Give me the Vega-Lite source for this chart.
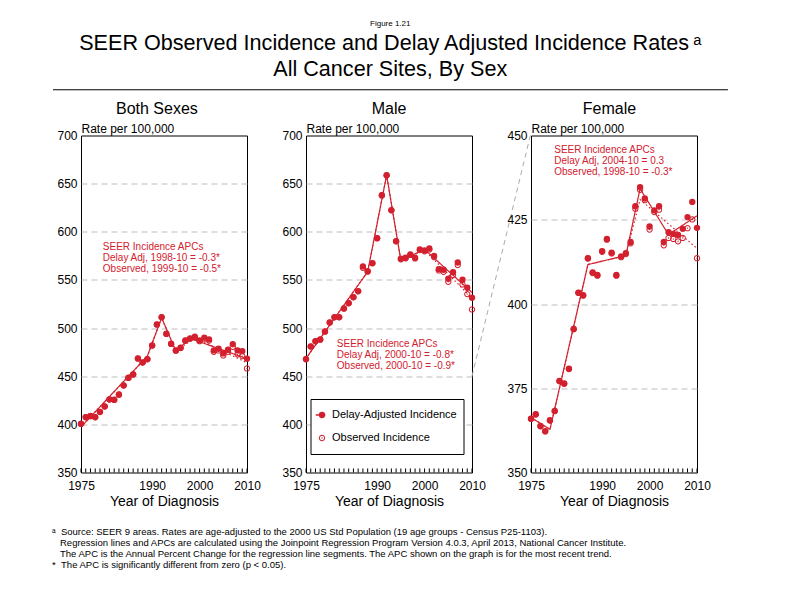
{
  "$schema": "https://vega.github.io/schema/vega-lite/v6.json",
  "padding": {"left": 51, "top": 19.5, "right": 5, "bottom": 5},
  "background": "white",
  "config": {
    "font": "Liberation Sans",
    "view": {"stroke": "black", "strokeWidth": 1},
    "axis": {"labelColor": "black", "titleColor": "black", "titleFontWeight": "normal", "labelFontSize": 12, "labelFont": "Liberation Sans", "titleFont": "Liberation Sans"},
    "title": {"fontWeight": "normal", "color": "black", "font": "Liberation Sans"},
    "text": {"font": "Liberation Sans"}
  },
  "datasets": {
    "pts": [
      {"panel": "Both", "year": 1975, "Delay-Adjusted Incidence": 400.7, "Observed Incidence": 400.5},
      {"panel": "Both", "year": 1976, "Delay-Adjusted Incidence": 407.6, "Observed Incidence": 407.4},
      {"panel": "Both", "year": 1977, "Delay-Adjusted Incidence": 408.7, "Observed Incidence": 408.5},
      {"panel": "Both", "year": 1978, "Delay-Adjusted Incidence": 407.6, "Observed Incidence": 407.4},
      {"panel": "Both", "year": 1979, "Delay-Adjusted Incidence": 413.0, "Observed Incidence": 412.8},
      {"panel": "Both", "year": 1980, "Delay-Adjusted Incidence": 418.7, "Observed Incidence": 418.5},
      {"panel": "Both", "year": 1981, "Delay-Adjusted Incidence": 426.0, "Observed Incidence": 425.8},
      {"panel": "Both", "year": 1982, "Delay-Adjusted Incidence": 425.6, "Observed Incidence": 425.4},
      {"panel": "Both", "year": 1983, "Delay-Adjusted Incidence": 431.0, "Observed Incidence": 430.8},
      {"panel": "Both", "year": 1984, "Delay-Adjusted Incidence": 440.5, "Observed Incidence": 440.3},
      {"panel": "Both", "year": 1985, "Delay-Adjusted Incidence": 448.4, "Observed Incidence": 448.2},
      {"panel": "Both", "year": 1986, "Delay-Adjusted Incidence": 452.0, "Observed Incidence": 451.8},
      {"panel": "Both", "year": 1987, "Delay-Adjusted Incidence": 468.5, "Observed Incidence": 468.3},
      {"panel": "Both", "year": 1988, "Delay-Adjusted Incidence": 464.4, "Observed Incidence": 464.2},
      {"panel": "Both", "year": 1989, "Delay-Adjusted Incidence": 467.8, "Observed Incidence": 467.6},
      {"panel": "Both", "year": 1990, "Delay-Adjusted Incidence": 482.0, "Observed Incidence": 481.8},
      {"panel": "Both", "year": 1991, "Delay-Adjusted Incidence": 503.8, "Observed Incidence": 503.6},
      {"panel": "Both", "year": 1992, "Delay-Adjusted Incidence": 511.4, "Observed Incidence": 511.2},
      {"panel": "Both", "year": 1993, "Delay-Adjusted Incidence": 494.1, "Observed Incidence": 493.9},
      {"panel": "Both", "year": 1994, "Delay-Adjusted Incidence": 483.7, "Observed Incidence": 483.5},
      {"panel": "Both", "year": 1995, "Delay-Adjusted Incidence": 476.8, "Observed Incidence": 476.5},
      {"panel": "Both", "year": 1996, "Delay-Adjusted Incidence": 479.6, "Observed Incidence": 479.3},
      {"panel": "Both", "year": 1997, "Delay-Adjusted Incidence": 487.2, "Observed Incidence": 486.8},
      {"panel": "Both", "year": 1998, "Delay-Adjusted Incidence": 489.3, "Observed Incidence": 488.8},
      {"panel": "Both", "year": 1999, "Delay-Adjusted Incidence": 491.0, "Observed Incidence": 490.3},
      {"panel": "Both", "year": 2000, "Delay-Adjusted Incidence": 487.2, "Observed Incidence": 486.4},
      {"panel": "Both", "year": 2001, "Delay-Adjusted Incidence": 490.0, "Observed Incidence": 489.0},
      {"panel": "Both", "year": 2002, "Delay-Adjusted Incidence": 488.2, "Observed Incidence": 487.0},
      {"panel": "Both", "year": 2003, "Delay-Adjusted Incidence": 476.8, "Observed Incidence": 475.4},
      {"panel": "Both", "year": 2004, "Delay-Adjusted Incidence": 478.5, "Observed Incidence": 476.8},
      {"panel": "Both", "year": 2005, "Delay-Adjusted Incidence": 473.7, "Observed Incidence": 471.6},
      {"panel": "Both", "year": 2006, "Delay-Adjusted Incidence": 477.5, "Observed Incidence": 475.4},
      {"panel": "Both", "year": 2007, "Delay-Adjusted Incidence": 483.4, "Observed Incidence": 480.6},
      {"panel": "Both", "year": 2008, "Delay-Adjusted Incidence": 476.8, "Observed Incidence": 472.7},
      {"panel": "Both", "year": 2009, "Delay-Adjusted Incidence": 476.0, "Observed Incidence": 470.9},
      {"panel": "Both", "year": 2010, "Delay-Adjusted Incidence": 468.2, "Observed Incidence": 458.1},
      {"panel": "Male", "year": 1975, "Delay-Adjusted Incidence": 467.8, "Observed Incidence": 467.6},
      {"panel": "Male", "year": 1976, "Delay-Adjusted Incidence": 481.0, "Observed Incidence": 480.8},
      {"panel": "Male", "year": 1977, "Delay-Adjusted Incidence": 486.5, "Observed Incidence": 486.3},
      {"panel": "Male", "year": 1978, "Delay-Adjusted Incidence": 488.2, "Observed Incidence": 488.0},
      {"panel": "Male", "year": 1979, "Delay-Adjusted Incidence": 496.5, "Observed Incidence": 496.3},
      {"panel": "Male", "year": 1980, "Delay-Adjusted Incidence": 505.9, "Observed Incidence": 505.7},
      {"panel": "Male", "year": 1981, "Delay-Adjusted Incidence": 511.4, "Observed Incidence": 511.2},
      {"panel": "Male", "year": 1982, "Delay-Adjusted Incidence": 511.4, "Observed Incidence": 511.2},
      {"panel": "Male", "year": 1983, "Delay-Adjusted Incidence": 520.4, "Observed Incidence": 520.2},
      {"panel": "Male", "year": 1984, "Delay-Adjusted Incidence": 526.0, "Observed Incidence": 525.8},
      {"panel": "Male", "year": 1985, "Delay-Adjusted Incidence": 532.2, "Observed Incidence": 532.0},
      {"panel": "Male", "year": 1986, "Delay-Adjusted Incidence": 538.4, "Observed Incidence": 538.2},
      {"panel": "Male", "year": 1987, "Delay-Adjusted Incidence": 564.0, "Observed Incidence": 562.6},
      {"panel": "Male", "year": 1988, "Delay-Adjusted Incidence": 559.2, "Observed Incidence": 558.6},
      {"panel": "Male", "year": 1989, "Delay-Adjusted Incidence": 567.5, "Observed Incidence": 567.2},
      {"panel": "Male", "year": 1990, "Delay-Adjusted Incidence": 593.4, "Observed Incidence": 593.2},
      {"panel": "Male", "year": 1991, "Delay-Adjusted Incidence": 638.0, "Observed Incidence": 637.8},
      {"panel": "Male", "year": 1992, "Delay-Adjusted Incidence": 658.8, "Observed Incidence": 658.6},
      {"panel": "Male", "year": 1993, "Delay-Adjusted Incidence": 622.5, "Observed Incidence": 622.3},
      {"panel": "Male", "year": 1994, "Delay-Adjusted Incidence": 590.3, "Observed Incidence": 590.1},
      {"panel": "Male", "year": 1995, "Delay-Adjusted Incidence": 572.0, "Observed Incidence": 571.5},
      {"panel": "Male", "year": 1996, "Delay-Adjusted Incidence": 573.0, "Observed Incidence": 572.5},
      {"panel": "Male", "year": 1997, "Delay-Adjusted Incidence": 576.5, "Observed Incidence": 576.0},
      {"panel": "Male", "year": 1998, "Delay-Adjusted Incidence": 573.0, "Observed Incidence": 572.3},
      {"panel": "Male", "year": 1999, "Delay-Adjusted Incidence": 581.7, "Observed Incidence": 581.0},
      {"panel": "Male", "year": 2000, "Delay-Adjusted Incidence": 580.6, "Observed Incidence": 579.8},
      {"panel": "Male", "year": 2001, "Delay-Adjusted Incidence": 582.7, "Observed Incidence": 581.7},
      {"panel": "Male", "year": 2002, "Delay-Adjusted Incidence": 575.0, "Observed Incidence": 573.8},
      {"panel": "Male", "year": 2003, "Delay-Adjusted Incidence": 561.2, "Observed Incidence": 559.9},
      {"panel": "Male", "year": 2004, "Delay-Adjusted Incidence": 560.6, "Observed Incidence": 558.5},
      {"panel": "Male", "year": 2005, "Delay-Adjusted Incidence": 551.2, "Observed Incidence": 548.0},
      {"panel": "Male", "year": 2006, "Delay-Adjusted Incidence": 558.1, "Observed Incidence": 555.0},
      {"panel": "Male", "year": 2007, "Delay-Adjusted Incidence": 568.2, "Observed Incidence": 565.4},
      {"panel": "Male", "year": 2008, "Delay-Adjusted Incidence": 550.2, "Observed Incidence": 545.3},
      {"panel": "Male", "year": 2009, "Delay-Adjusted Incidence": 541.9, "Observed Incidence": 535.3},
      {"panel": "Male", "year": 2010, "Delay-Adjusted Incidence": 531.5, "Observed Incidence": 519.4},
      {"panel": "Female", "year": 1975, "Delay-Adjusted Incidence": 366.0, "Observed Incidence": 365.9},
      {"panel": "Female", "year": 1976, "Delay-Adjusted Incidence": 367.3, "Observed Incidence": 367.2},
      {"panel": "Female", "year": 1977, "Delay-Adjusted Incidence": 363.8, "Observed Incidence": 363.7},
      {"panel": "Female", "year": 1978, "Delay-Adjusted Incidence": 362.3, "Observed Incidence": 362.2},
      {"panel": "Female", "year": 1979, "Delay-Adjusted Incidence": 365.5, "Observed Incidence": 365.4},
      {"panel": "Female", "year": 1980, "Delay-Adjusted Incidence": 368.3, "Observed Incidence": 368.2},
      {"panel": "Female", "year": 1981, "Delay-Adjusted Incidence": 377.2, "Observed Incidence": 377.1},
      {"panel": "Female", "year": 1982, "Delay-Adjusted Incidence": 376.4, "Observed Incidence": 376.3},
      {"panel": "Female", "year": 1983, "Delay-Adjusted Incidence": 380.8, "Observed Incidence": 380.7},
      {"panel": "Female", "year": 1984, "Delay-Adjusted Incidence": 392.6, "Observed Incidence": 392.5},
      {"panel": "Female", "year": 1985, "Delay-Adjusted Incidence": 403.4, "Observed Incidence": 403.3},
      {"panel": "Female", "year": 1986, "Delay-Adjusted Incidence": 402.6, "Observed Incidence": 402.5},
      {"panel": "Female", "year": 1987, "Delay-Adjusted Incidence": 413.6, "Observed Incidence": 413.5},
      {"panel": "Female", "year": 1988, "Delay-Adjusted Incidence": 409.4, "Observed Incidence": 409.2},
      {"panel": "Female", "year": 1989, "Delay-Adjusted Incidence": 408.6, "Observed Incidence": 408.4},
      {"panel": "Female", "year": 1990, "Delay-Adjusted Incidence": 415.7, "Observed Incidence": 415.5},
      {"panel": "Female", "year": 1991, "Delay-Adjusted Incidence": 419.3, "Observed Incidence": 419.1},
      {"panel": "Female", "year": 1992, "Delay-Adjusted Incidence": 415.2, "Observed Incidence": 415.0},
      {"panel": "Female", "year": 1993, "Delay-Adjusted Incidence": 408.6, "Observed Incidence": 408.4},
      {"panel": "Female", "year": 1994, "Delay-Adjusted Incidence": 414.1, "Observed Incidence": 413.9},
      {"panel": "Female", "year": 1995, "Delay-Adjusted Incidence": 415.1, "Observed Incidence": 414.8},
      {"panel": "Female", "year": 1996, "Delay-Adjusted Incidence": 418.4, "Observed Incidence": 418.0},
      {"panel": "Female", "year": 1997, "Delay-Adjusted Incidence": 429.0, "Observed Incidence": 428.3},
      {"panel": "Female", "year": 1998, "Delay-Adjusted Incidence": 434.7, "Observed Incidence": 433.9},
      {"panel": "Female", "year": 1999, "Delay-Adjusted Incidence": 431.3, "Observed Incidence": 430.8},
      {"panel": "Female", "year": 2000, "Delay-Adjusted Incidence": 423.0, "Observed Incidence": 422.1},
      {"panel": "Female", "year": 2001, "Delay-Adjusted Incidence": 427.8, "Observed Incidence": 427.3},
      {"panel": "Female", "year": 2002, "Delay-Adjusted Incidence": 429.0, "Observed Incidence": 428.0},
      {"panel": "Female", "year": 2003, "Delay-Adjusted Incidence": 418.4, "Observed Incidence": 417.4},
      {"panel": "Female", "year": 2004, "Delay-Adjusted Incidence": 421.3, "Observed Incidence": 419.6},
      {"panel": "Female", "year": 2005, "Delay-Adjusted Incidence": 420.8, "Observed Incidence": 419.3},
      {"panel": "Female", "year": 2006, "Delay-Adjusted Incidence": 420.5, "Observed Incidence": 418.6},
      {"panel": "Female", "year": 2007, "Delay-Adjusted Incidence": 422.3, "Observed Incidence": 419.6},
      {"panel": "Female", "year": 2008, "Delay-Adjusted Incidence": 425.8, "Observed Incidence": 422.5},
      {"panel": "Female", "year": 2009, "Delay-Adjusted Incidence": 430.3, "Observed Incidence": 425.1},
      {"panel": "Female", "year": 2010, "Delay-Adjusted Incidence": 422.6, "Observed Incidence": 413.6}
    ],
    "fits": [
      {"panel": "Both", "fit": "Delay-Adjusted", "year": 1975, "rate": 397.2},
      {"panel": "Both", "fit": "Delay-Adjusted", "year": 1989, "rate": 470.9},
      {"panel": "Both", "fit": "Delay-Adjusted", "year": 1992, "rate": 510.7},
      {"panel": "Both", "fit": "Delay-Adjusted", "year": 1995, "rate": 476.1},
      {"panel": "Both", "fit": "Delay-Adjusted", "year": 1998, "rate": 489.3},
      {"panel": "Both", "fit": "Delay-Adjusted", "year": 2010, "rate": 468.2},
      {"panel": "Both", "fit": "Observed", "year": 1975, "rate": 397.2},
      {"panel": "Both", "fit": "Observed", "year": 1989, "rate": 470.9},
      {"panel": "Both", "fit": "Observed", "year": 1992, "rate": 510.7},
      {"panel": "Both", "fit": "Observed", "year": 1995, "rate": 476.0},
      {"panel": "Both", "fit": "Observed", "year": 1999, "rate": 490.0},
      {"panel": "Both", "fit": "Observed", "year": 2010, "rate": 464.0},
      {"panel": "Male", "fit": "Delay-Adjusted", "year": 1975, "rate": 468.5},
      {"panel": "Male", "fit": "Delay-Adjusted", "year": 1988, "rate": 558.5},
      {"panel": "Male", "fit": "Delay-Adjusted", "year": 1992, "rate": 658.8},
      {"panel": "Male", "fit": "Delay-Adjusted", "year": 1995, "rate": 570.2},
      {"panel": "Male", "fit": "Delay-Adjusted", "year": 2000, "rate": 581.7},
      {"panel": "Male", "fit": "Delay-Adjusted", "year": 2010, "rate": 537.0},
      {"panel": "Male", "fit": "Observed", "year": 1975, "rate": 468.5},
      {"panel": "Male", "fit": "Observed", "year": 1988, "rate": 558.5},
      {"panel": "Male", "fit": "Observed", "year": 1992, "rate": 658.8},
      {"panel": "Male", "fit": "Observed", "year": 1995, "rate": 570.2},
      {"panel": "Male", "fit": "Observed", "year": 2000, "rate": 581.0},
      {"panel": "Male", "fit": "Observed", "year": 2010, "rate": 531.0},
      {"panel": "Female", "fit": "Delay-Adjusted", "year": 1975, "rate": 366.3},
      {"panel": "Female", "fit": "Delay-Adjusted", "year": 1979, "rate": 362.8},
      {"panel": "Female", "fit": "Delay-Adjusted", "year": 1987, "rate": 411.7},
      {"panel": "Female", "fit": "Delay-Adjusted", "year": 1995, "rate": 414.4},
      {"panel": "Female", "fit": "Delay-Adjusted", "year": 1998, "rate": 434.2},
      {"panel": "Female", "fit": "Delay-Adjusted", "year": 2004, "rate": 420.6},
      {"panel": "Female", "fit": "Delay-Adjusted", "year": 2010, "rate": 426.2},
      {"panel": "Female", "fit": "Observed", "year": 1975, "rate": 366.3},
      {"panel": "Female", "fit": "Observed", "year": 1979, "rate": 362.8},
      {"panel": "Female", "fit": "Observed", "year": 1987, "rate": 411.7},
      {"panel": "Female", "fit": "Observed", "year": 1995, "rate": 414.4},
      {"panel": "Female", "fit": "Observed", "year": 1998, "rate": 431.0},
      {"panel": "Female", "fit": "Observed", "year": 2010, "rate": 416.5}
    ]
  },
  "title": {
    "text": "Figure 1.21",
    "subtitle": ["SEER Observed Incidence and Delay Adjusted Incidence Rates\u2009\u1d43", "All Cancer Sites, By Sex"],
    "fontSize": 8,
    "fontWeight": "normal",
    "color": "black",
    "subtitleFontSize": 21.6,
    "subtitleColor": "black",
    "subtitleFont": "Liberation Sans",
    "subtitlePadding": 5,
    "subtitleLineHeight": 25.7,
    "anchor": "middle",
    "frame": "bounds",
    "offset": 8
  },
  "bounds": "flush",
  "spacing": 59,
  "hconcat": [
    {
      "width": 166,
      "height": 337,
      "layer": [
        {
          "data": {"name": "fits"},
          "transform": [{"filter": "datum.panel == 'Both'"}],
          "mark": {"type": "line", "color": "#d3202e", "strokeWidth": 1.2},
          "encoding": {
            "x": {"field": "year", "type": "quantitative", "scale": {"domain": [1975, 2010], "nice": false, "zero": false},
              "axis": {"values": [1975, 1990, 2000, 2010], "format": "d", "labelFlush": false, "labelOverlap": false, "ticks": false, "tickSize": 0, "labelPadding": 8,
                "domain": false, "grid": false, "title": "Year of Diagnosis", "titleFontSize": 14, "titlePadding": 3}},
            "y": {"field": "rate", "type": "quantitative", "scale": {"domain": [350, 700], "nice": false, "zero": false},
              "axis": {"values": [350,400,450,500,550,600,650,700], "title": "Rate per 100,000", "titleAngle": 0, "titleAlign": "left",
                "titleBaseline": "alphabetic", "titleX": 0, "titleY": -3, "titleFontSize": 12, "ticks": false, "labelPadding": 4,
                "labelFlush": false, "domain": false, "grid": true, "gridDash": [6, 4], "gridColor": "#bdbdbd",
                "gridOpacity": {"condition": {"test": "datum.value == 350 || datum.value == 700", "value": 0}, "value": 1}}},
            "strokeDash": {"field": "fit", "type": "nominal", "scale": {"domain": ["Delay-Adjusted", "Observed"], "range": [[1, 0], [1.5, 2.5]]},
              "legend": {"values": ["Delay-Adjusted"], "title": null, "orient": "none", "legendX": 234, "legendY": 269.5, "padding": 0, "clipHeight": 20, "labelExpr": "''", "labelLimit": 1, "labelOffset": 0, "zindex": 2,
                "symbolType": "stroke", "symbolSize": 90, "symbolStrokeColor": "#d3202e", "symbolStrokeWidth": 1.3}}
          }
        },
        {
          "data": {"name": "pts"},
          "transform": [{"filter": "datum.panel == 'Both'"}],
          "mark": {"type": "rule", "color": "black", "strokeWidth": 1},
          "encoding": {"x": {"field": "year", "type": "quantitative"}, "y": {"datum": 350}, "y2": {"datum": 354.2}}
        },
        {
          "data": {"name": "pts"},
          "transform": [{"filter": "datum.panel == 'Both'"}, {"fold": ["Observed Incidence", "Delay-Adjusted Incidence"], "as": ["series", "rate"]}],
          "mark": {"type": "point", "filled": true, "color": "#d3202e", "opacity": 1, "strokeWidth": 0, "size": 40},
          "encoding": {
            "x": {"field": "year", "type": "quantitative"},
            "y": {"field": "rate", "type": "quantitative"},
            "shape": {"field": "series", "type": "nominal",
              "scale": {"domain": ["Delay-Adjusted Incidence", "Observed Incidence"], "range": ["circle", "M1,0A1,1 0 1,1 -1,0A1,1 0 1,1 1,0ZM0.68,0A0.68,0.68 0 1,0 -0.68,0A0.68,0.68 0 1,0 0.68,0ZM0.22,0A0.22,0.22 0 1,1 -0.22,0A0.22,0.22 0 1,1 0.22,0Z"]},
              "legend": {"title": null, "orient": "none", "legendX": 229.5, "legendY": 263.5, "strokeColor": "black", "fillColor": "white", "padding": 6, "rowPadding": 3, "clipHeight": 20, "zindex": 1,
                "labelFontSize": 11, "labelColor": "black", "labelFont": "Liberation Sans", "symbolSize": 40, "symbolFillColor": "#d3202e", "symbolStrokeWidth": 0, "labelOffset": 4.5, "labelLimit": 0}}
          }
        },
        {
          "data": {"values": [{"lines": ["SEER Incidence APCs", "Delay Adj, 1998-10 = -0.3*", "Observed, 1999-10 = -0.5*"]}]},
          "mark": {"type": "text", "align": "left", "baseline": "alphabetic", "color": "#d3202e", "fontSize": 10, "lineHeight": 11},
          "encoding": {"x": {"datum": 1979.6}, "y": {"datum": 581}, "text": {"field": "lines"}}
        },
        {
          "data": {"values": [{"name": "Both Sexes"}]},
          "mark": {"type": "text", "align": "center", "baseline": "alphabetic", "color": "black", "fontSize": 16},
          "encoding": {"x": {"datum": 1991.0}, "y": {"datum": 722.5}, "text": {"field": "name"}}
        },
        {
          "data": {"values": [{}]},
          "mark": {"type": "rule", "color": "black", "strokeWidth": 1},
          "encoding": {"x": {"datum": 1969.1}, "x2": {"datum": 2111.4}, "y": {"datum": 747.5}}
        },
        {
          "data": {"values": [{"lines": [
            "\u1d43\u00a0\u00a0Source: SEER 9 areas. Rates are age-adjusted to the 2000 US Std Population (19 age groups - Census P25-1103).",
            "\u200b\u00a0\u00a0\u00a0Regression lines and APCs are calculated using the Joinpoint Regression Program Version 4.0.3, April 2013, National Cancer Institute.",
            "\u200b\u00a0\u00a0\u00a0The APC is the Annual Percent Change for the regression line segments. The APC shown on the graph is for the most recent trend.",
            "*\u00a0\u00a0The APC is significantly different from zero (p < 0.05)."
          ]}]},
          "mark": {"type": "text", "align": "left", "baseline": "alphabetic", "color": "black", "fontSize": 9.5, "lineHeight": 11.2},
          "encoding": {"x": {"datum": 1968.9}, "y": {"datum": 285.3}, "text": {"field": "lines"}}
        }
      ]
    },
    {
      "width": 166,
      "height": 337,
      "layer": [
        {
          "data": {"name": "fits"},
          "transform": [{"filter": "datum.panel == 'Male'"}],
          "mark": {"type": "line", "color": "#d3202e", "strokeWidth": 1.2},
          "encoding": {
            "x": {"field": "year", "type": "quantitative", "scale": {"domain": [1975, 2010], "nice": false, "zero": false},
              "axis": {"values": [1975, 1990, 2000, 2010], "format": "d", "labelFlush": false, "labelOverlap": false, "ticks": false, "tickSize": 0, "labelPadding": 8,
                "domain": false, "grid": false, "title": "Year of Diagnosis", "titleFontSize": 14, "titlePadding": 3}},
            "y": {"field": "rate", "type": "quantitative", "scale": {"domain": [350, 700], "nice": false, "zero": false},
              "axis": {"values": [350,400,450,500,550,600,650,700], "title": "Rate per 100,000", "titleAngle": 0, "titleAlign": "left",
                "titleBaseline": "alphabetic", "titleX": 0, "titleY": -3, "titleFontSize": 12, "ticks": false, "labelPadding": 4,
                "labelFlush": false, "domain": false, "grid": true, "gridDash": [6, 4], "gridColor": "#bdbdbd",
                "gridOpacity": {"condition": {"test": "datum.value == 350 || datum.value == 700", "value": 0}, "value": 1}}},
            "strokeDash": {"field": "fit", "type": "nominal", "scale": {"domain": ["Delay-Adjusted", "Observed"], "range": [[1, 0], [1.5, 2.5]]},
              "legend": {"values": ["Delay-Adjusted"], "title": null, "orient": "none", "legendX": 234, "legendY": 269.5, "padding": 0, "clipHeight": 20, "labelExpr": "''", "labelLimit": 1, "labelOffset": 0, "zindex": 2,
                "symbolType": "stroke", "symbolSize": 90, "symbolStrokeColor": "#d3202e", "symbolStrokeWidth": 1.3}}
          }
        },
        {
          "data": {"name": "pts"},
          "transform": [{"filter": "datum.panel == 'Male'"}],
          "mark": {"type": "rule", "color": "black", "strokeWidth": 1},
          "encoding": {"x": {"field": "year", "type": "quantitative"}, "y": {"datum": 350}, "y2": {"datum": 354.2}}
        },
        {
          "data": {"name": "pts"},
          "transform": [{"filter": "datum.panel == 'Male'"}, {"fold": ["Observed Incidence", "Delay-Adjusted Incidence"], "as": ["series", "rate"]}],
          "mark": {"type": "point", "filled": true, "color": "#d3202e", "opacity": 1, "strokeWidth": 0, "size": 40},
          "encoding": {
            "x": {"field": "year", "type": "quantitative"},
            "y": {"field": "rate", "type": "quantitative"},
            "shape": {"field": "series", "type": "nominal",
              "scale": {"domain": ["Delay-Adjusted Incidence", "Observed Incidence"], "range": ["circle", "M1,0A1,1 0 1,1 -1,0A1,1 0 1,1 1,0ZM0.68,0A0.68,0.68 0 1,0 -0.68,0A0.68,0.68 0 1,0 0.68,0ZM0.22,0A0.22,0.22 0 1,1 -0.22,0A0.22,0.22 0 1,1 0.22,0Z"]},
              "legend": {"title": null, "orient": "none", "legendX": 229.5, "legendY": 263.5, "strokeColor": "black", "fillColor": "white", "padding": 6, "rowPadding": 3, "clipHeight": 20, "zindex": 1,
                "labelFontSize": 11, "labelColor": "black", "labelFont": "Liberation Sans", "symbolSize": 40, "symbolFillColor": "#d3202e", "symbolStrokeWidth": 0, "labelOffset": 4.5, "labelLimit": 0}}
          }
        },
        {
          "data": {"values": [{"lines": ["SEER Incidence APCs", "Delay Adj, 2000-10 = -0.8*", "Observed, 2000-10 = -0.9*"]}]},
          "mark": {"type": "text", "align": "left", "baseline": "alphabetic", "color": "#d3202e", "fontSize": 10, "lineHeight": 11},
          "encoding": {"x": {"datum": 1981.5}, "y": {"datum": 480.6}, "text": {"field": "lines"}}
        },
        {
          "data": {"values": [{"name": "Male"}]},
          "mark": {"type": "text", "align": "center", "baseline": "alphabetic", "color": "black", "fontSize": 16},
          "encoding": {"x": {"datum": 1992.5}, "y": {"datum": 722.5}, "text": {"field": "name"}}
        },
        {
          "data": {"values": [{}]},
          "mark": {"type": "rule", "color": "#aaaaaa", "strokeWidth": 1, "strokeDash": [5, 4]},
          "encoding": {"x": {"datum": 2010}, "y": {"datum": 450}, "x2": {"datum": 2022.3}, "y2": {"datum": 700}}
        }
      ]
    },
    {
      "width": 166,
      "height": 337,
      "layer": [
        {
          "data": {"name": "fits"},
          "transform": [{"filter": "datum.panel == 'Female'"}],
          "mark": {"type": "line", "color": "#d3202e", "strokeWidth": 1.2},
          "encoding": {
            "x": {"field": "year", "type": "quantitative", "scale": {"domain": [1975, 2010], "nice": false, "zero": false},
              "axis": {"values": [1975, 1990, 2000, 2010], "format": "d", "labelFlush": false, "labelOverlap": false, "ticks": false, "tickSize": 0, "labelPadding": 8,
                "domain": false, "grid": false, "title": "Year of Diagnosis", "titleFontSize": 14, "titlePadding": 3}},
            "y": {"field": "rate", "type": "quantitative", "scale": {"domain": [350, 450], "nice": false, "zero": false},
              "axis": {"values": [350,375,400,425,450], "title": "Rate per 100,000", "titleAngle": 0, "titleAlign": "left",
                "titleBaseline": "alphabetic", "titleX": 0, "titleY": -3, "titleFontSize": 12, "ticks": false, "labelPadding": 4,
                "labelFlush": false, "domain": false, "grid": true, "gridDash": [6, 4], "gridColor": "#bdbdbd",
                "gridOpacity": {"condition": {"test": "datum.value == 350 || datum.value == 450", "value": 0}, "value": 1}}},
            "strokeDash": {"field": "fit", "type": "nominal", "scale": {"domain": ["Delay-Adjusted", "Observed"], "range": [[1, 0], [1.5, 2.5]]},
              "legend": {"values": ["Delay-Adjusted"], "title": null, "orient": "none", "legendX": 234, "legendY": 269.5, "padding": 0, "clipHeight": 20, "labelExpr": "''", "labelLimit": 1, "labelOffset": 0, "zindex": 2,
                "symbolType": "stroke", "symbolSize": 90, "symbolStrokeColor": "#d3202e", "symbolStrokeWidth": 1.3}}
          }
        },
        {
          "data": {"name": "pts"},
          "transform": [{"filter": "datum.panel == 'Female'"}],
          "mark": {"type": "rule", "color": "black", "strokeWidth": 1},
          "encoding": {"x": {"field": "year", "type": "quantitative"}, "y": {"datum": 350}, "y2": {"datum": 351.2}}
        },
        {
          "data": {"name": "pts"},
          "transform": [{"filter": "datum.panel == 'Female'"}, {"fold": ["Observed Incidence", "Delay-Adjusted Incidence"], "as": ["series", "rate"]}],
          "mark": {"type": "point", "filled": true, "color": "#d3202e", "opacity": 1, "strokeWidth": 0, "size": 40},
          "encoding": {
            "x": {"field": "year", "type": "quantitative"},
            "y": {"field": "rate", "type": "quantitative"},
            "shape": {"field": "series", "type": "nominal",
              "scale": {"domain": ["Delay-Adjusted Incidence", "Observed Incidence"], "range": ["circle", "M1,0A1,1 0 1,1 -1,0A1,1 0 1,1 1,0ZM0.68,0A0.68,0.68 0 1,0 -0.68,0A0.68,0.68 0 1,0 0.68,0ZM0.22,0A0.22,0.22 0 1,1 -0.22,0A0.22,0.22 0 1,1 0.22,0Z"]},
              "legend": {"title": null, "orient": "none", "legendX": 229.5, "legendY": 263.5, "strokeColor": "black", "fillColor": "white", "padding": 6, "rowPadding": 3, "clipHeight": 20, "zindex": 1,
                "labelFontSize": 11, "labelColor": "black", "labelFont": "Liberation Sans", "symbolSize": 40, "symbolFillColor": "#d3202e", "symbolStrokeWidth": 0, "labelOffset": 4.5, "labelLimit": 0}}
          }
        },
        {
          "data": {"values": [{"lines": ["SEER Incidence APCs", "Delay Adj, 2004-10 = 0.3", "Observed, 1998-10 = -0.3*"]}]},
          "mark": {"type": "text", "align": "left", "baseline": "alphabetic", "color": "#d3202e", "fontSize": 10, "lineHeight": 11},
          "encoding": {"x": {"datum": 1979.9}, "y": {"datum": 444.7}, "text": {"field": "lines"}}
        },
        {
          "data": {"values": [{"name": "Female"}]},
          "mark": {"type": "text", "align": "center", "baseline": "alphabetic", "color": "black", "fontSize": 16},
          "encoding": {"x": {"datum": 1991.55}, "y": {"datum": 456.4}, "text": {"field": "name"}}
        }
      ]
    }
  ]
}
